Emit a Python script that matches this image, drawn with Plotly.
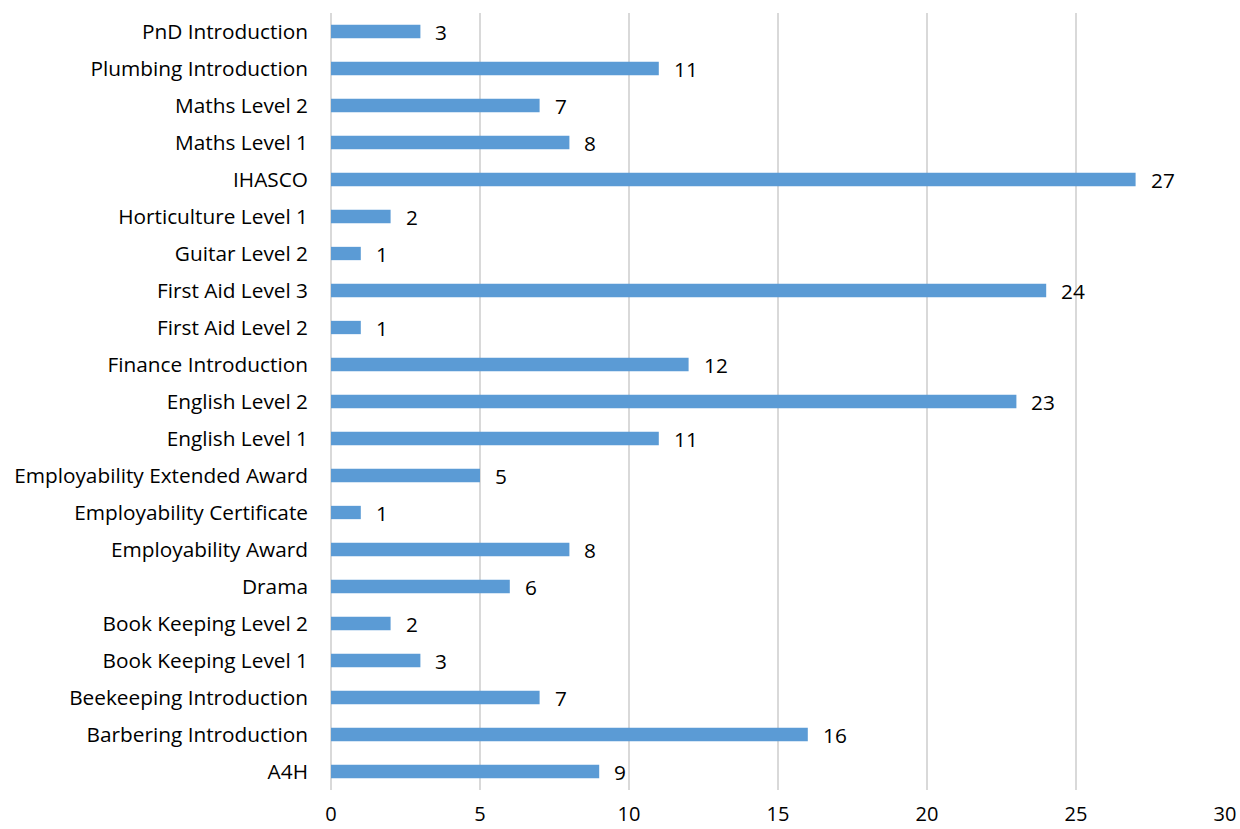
import plotly.graph_objects as go

courses = [
    "A4H", "Barbering Introduction", "Beekeeping Introduction", "Book Keeping Level 1",
    "Book Keeping Level 2", "Drama", "Employability Award", "Employability Certificate",
    "Employability Extended Award", "English Level 1", "English Level 2", "Finance Introduction",
    "First Aid Level 2", "First Aid Level 3", "Guitar Level 2", "Horticulture Level 1",
    "IHASCO", "Maths Level 1", "Maths Level 2", "Plumbing Introduction", "PnD Introduction",
]
learners = [9, 16, 7, 3, 2, 6, 8, 1, 5, 11, 23, 12, 1, 24, 1, 2, 27, 8, 7, 11, 3]

x_ticks = [0, 5, 10, 15, 20, 25, 30]

FONT = "Open Sans"
FSIZE = 20.8
BAR_COLOR = "#5B9BD5"

fig = go.Figure(
    go.Bar(
        x=learners,
        y=courses,
        orientation="h",
        marker=dict(color=BAR_COLOR, line=dict(width=0)),
        width=0.36,
    )
)

# value labels just past the end of each bar
for course, value in zip(courses, learners):
    fig.add_annotation(
        x=value, y=course, text=str(value), showarrow=False,
        xanchor="left", yanchor="middle", xshift=13, yshift=0,
        font=dict(family=FONT, size=FSIZE, color="#000000"),
    )

fig.update_layout(
    width=1240,
    height=829,
    margin=dict(l=331, r=15, t=13, b=39),
    paper_bgcolor="white",
    plot_bgcolor="white",
    showlegend=False,
    font=dict(family=FONT, size=FSIZE, color="#000000"),
    xaxis=dict(
        range=[0, 30],
        tickvals=x_ticks,
        ticktext=[str(t) for t in x_ticks],
        showgrid=True,
        gridcolor="#d9d9d9",
        gridwidth=1.5,
        zeroline=True,
        zerolinecolor="#d9d9d9",
        zerolinewidth=1.5,
        showline=False,
        ticks="",
        ticklabelstandoff=10,
        automargin=False,
        tickfont=dict(family=FONT, size=20, color="#000000"),
    ),
    yaxis=dict(
        categoryorder="array",
        categoryarray=courses,
        showgrid=False,
        showline=False,
        ticks="",
        ticklabelstandoff=22,
        automargin=False,
        tickfont=dict(family=FONT, size=FSIZE, color="#000000"),
    ),
)

fig.write_html("out.html")
